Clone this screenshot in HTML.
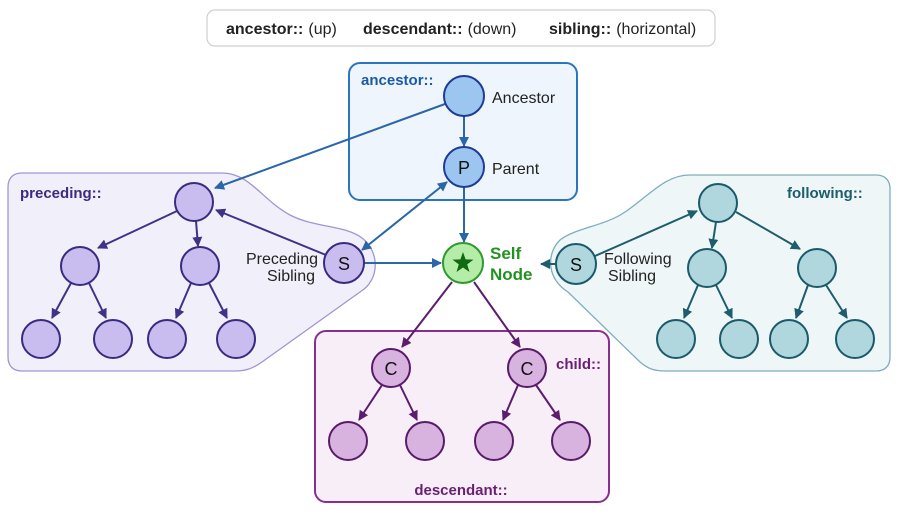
<!DOCTYPE html>
<html><head><meta charset="utf-8"><style>
html,body{margin:0;padding:0;background:#fff;}
svg{display:block;font-family:"Liberation Sans",sans-serif;}
</style></head><body>
<svg width="898" height="521" viewBox="0 0 898 521" xmlns="http://www.w3.org/2000/svg">
<defs>
<marker id="ab" markerWidth="10" markerHeight="10" refX="9" refY="5" orient="auto-start-reverse" markerUnits="userSpaceOnUse"><path d="M0,0 L10,5 L0,10 z" fill="#2a66a8"/></marker>
<marker id="ap" markerWidth="10" markerHeight="10" refX="9" refY="5" orient="auto-start-reverse" markerUnits="userSpaceOnUse"><path d="M0,0 L10,5 L0,10 z" fill="#3f3288"/></marker>
<marker id="at" markerWidth="10" markerHeight="10" refX="9" refY="5" orient="auto-start-reverse" markerUnits="userSpaceOnUse"><path d="M0,0 L10,5 L0,10 z" fill="#1d5d6c"/></marker>
<marker id="am" markerWidth="10" markerHeight="10" refX="9" refY="5" orient="auto-start-reverse" markerUnits="userSpaceOnUse"><path d="M0,0 L10,5 L0,10 z" fill="#5c1d6e"/></marker>
</defs>

<rect x="207" y="10" width="508" height="36" rx="8" fill="#fff" stroke="#cfcfcf" stroke-width="1.2"/>
<text y="34" font-size="16" fill="#222"><tspan x="226" font-weight="bold">ancestor::</tspan><tspan dx="5">(up)</tspan><tspan x="363" font-weight="bold">descendant::</tspan><tspan dx="5">(down)</tspan><tspan x="549" font-weight="bold">sibling::</tspan><tspan dx="5">(horizontal)</tspan></text>

<path d="M22,173 L222,173 C250,173 262,200 290,215 C315,228 345,225 362,238 C380,252 380,280 360,292 L262,362 C252,369 245,371 235,371 L22,371 C13,371 8,366 8,357 L8,187 C8,178 13,173 22,173 Z" fill="#f1eff9" stroke="#a294d2" stroke-width="1.3"/>
<path d="M876,175 L690,175 C665,175 650,195 625,212 C605,226 575,228 560,240 C545,255 548,280 568,292 L640,362 C648,369 655,371 665,371 L876,371 C885,371 890,366 890,357 L890,189 C890,180 885,175 876,175 Z" fill="#eef6f8" stroke="#7eaeba" stroke-width="1.3"/>
<rect x="349" y="63" width="228" height="137" rx="11" fill="#eef5fc" stroke="#2a74c0" stroke-width="2"/>
<rect x="315" y="331" width="294" height="171" rx="11" fill="#f8eef8" stroke="#8a2e8e" stroke-width="2"/>

<text x="361" y="85" font-size="15" font-weight="bold" fill="#1a5aa6">ancestor::</text>
<text x="20" y="198" font-size="15" font-weight="bold" fill="#3d2a82">preceding::</text>
<text x="787" y="198" font-size="15" font-weight="bold" fill="#1d5d6c">following::</text>
<text x="556" y="369" font-size="15" font-weight="bold" fill="#6a1f72">child::</text>
<text x="461" y="495" font-size="15" font-weight="bold" fill="#6a1f72" text-anchor="middle">descendant::</text>

<g stroke="#2a66a8" stroke-width="2" fill="none">
<line x1="445" y1="104" x2="215" y2="188" marker-end="url(#ab)"/>
<line x1="464" y1="116" x2="464" y2="146" marker-end="url(#ab)"/>
<line x1="464" y1="187" x2="464" y2="242" marker-end="url(#ab)"/>
<line x1="447" y1="182" x2="362" y2="250" marker-start="url(#ab)" marker-end="url(#ab)"/>
<line x1="364" y1="263" x2="441" y2="263" marker-end="url(#ab)"/>
</g>
<g stroke="#3f3288" stroke-width="2" fill="none">
<line x1="326" y1="255" x2="216" y2="210" marker-end="url(#ap)"/>
<line x1="177" y1="211" x2="98" y2="248" marker-end="url(#ap)"/>
<line x1="196" y1="221" x2="198" y2="246" marker-end="url(#ap)"/>
<line x1="71" y1="283" x2="52" y2="318" marker-end="url(#ap)"/>
<line x1="89" y1="283" x2="106" y2="318" marker-end="url(#ap)"/>
<line x1="191" y1="283" x2="176" y2="318" marker-end="url(#ap)"/>
<line x1="209" y1="283" x2="227" y2="318" marker-end="url(#ap)"/>
</g>
<g stroke="#1d5d6c" stroke-width="2" fill="none">
<line x1="556" y1="264" x2="541" y2="264" marker-end="url(#at)"/>
<line x1="595" y1="256" x2="697" y2="211" marker-end="url(#at)"/>
<line x1="716" y1="222" x2="712" y2="248" marker-end="url(#at)"/>
<line x1="736" y1="212" x2="800" y2="249" marker-end="url(#at)"/>
<line x1="698" y1="285" x2="684" y2="318" marker-end="url(#at)"/>
<line x1="716" y1="285" x2="732" y2="318" marker-end="url(#at)"/>
<line x1="808" y1="285" x2="796" y2="318" marker-end="url(#at)"/>
<line x1="826" y1="285" x2="847" y2="318" marker-end="url(#at)"/>
</g>
<g stroke="#5c1d6e" stroke-width="2" fill="none">
<line x1="452" y1="282" x2="402" y2="347" marker-end="url(#am)"/>
<line x1="474" y1="282" x2="520" y2="347" marker-end="url(#am)"/>
<line x1="382" y1="385" x2="359" y2="420" marker-end="url(#am)"/>
<line x1="400" y1="385" x2="417" y2="420" marker-end="url(#am)"/>
<line x1="518" y1="385" x2="503" y2="420" marker-end="url(#am)"/>
<line x1="536" y1="385" x2="560" y2="420" marker-end="url(#am)"/>
</g>

<g stroke="#1f3a98" stroke-width="2" fill="#9cc6f0">
<circle cx="464" cy="96" r="20"/>
<circle cx="464" cy="167" r="20"/>
</g>
<g stroke="#3a2a80" stroke-width="2" fill="#c9bdf0">
<circle cx="194" cy="202" r="19"/>
<circle cx="80" cy="266" r="19"/>
<circle cx="200" cy="266" r="19"/>
<circle cx="41" cy="339" r="19"/>
<circle cx="113" cy="339" r="19"/>
<circle cx="167" cy="339" r="19"/>
<circle cx="236" cy="339" r="19"/>
<circle cx="344" cy="263" r="20"/>
</g>
<g stroke="#1a5a6a" stroke-width="2" fill="#b0d6de">
<circle cx="718" cy="203" r="19"/>
<circle cx="707" cy="268" r="19"/>
<circle cx="817" cy="268" r="19"/>
<circle cx="676" cy="339" r="19"/>
<circle cx="739" cy="339" r="19"/>
<circle cx="789" cy="339" r="19"/>
<circle cx="855" cy="339" r="19"/>
<circle cx="576" cy="264" r="20"/>
</g>
<g stroke="#5a1a6a" stroke-width="2" fill="#d9b3e0">
<circle cx="391" cy="368" r="19"/>
<circle cx="527" cy="368" r="19"/>
<circle cx="348" cy="441" r="19"/>
<circle cx="425" cy="441" r="19"/>
<circle cx="494" cy="441" r="19"/>
<circle cx="571" cy="441" r="19"/>
</g>
<circle cx="463" cy="263" r="20" fill="#b5eca8" stroke="#2e9a2e" stroke-width="2"/>
<path d="M463,252 L465.6,259.4 L473.5,259.6 L467.2,264.4 L469.5,272 L463,267.5 L456.5,272 L458.8,264.4 L452.5,259.6 L460.4,259.4 Z" fill="#0f6a12"/>

<g font-size="18" fill="#111" text-anchor="middle">
<text x="464" y="174">P</text>
<text x="344" y="270">S</text>
<text x="576" y="271">S</text>
<text x="391" y="375">C</text>
<text x="527" y="375">C</text>
</g>

<g font-size="16" fill="#222">
<text x="492" y="103">Ancestor</text>
<text x="492" y="174">Parent</text>
<text x="318" y="264" text-anchor="end">Preceding</text>
<text x="315" y="281" text-anchor="end">Sibling</text>
<text x="604" y="264">Following</text>
<text x="608" y="281">Sibling</text>
</g>
<g font-size="17" font-weight="bold" fill="#229222">
<text x="490" y="259">Self</text>
<text x="490" y="280">Node</text>
</g>
</svg>
</body></html>
